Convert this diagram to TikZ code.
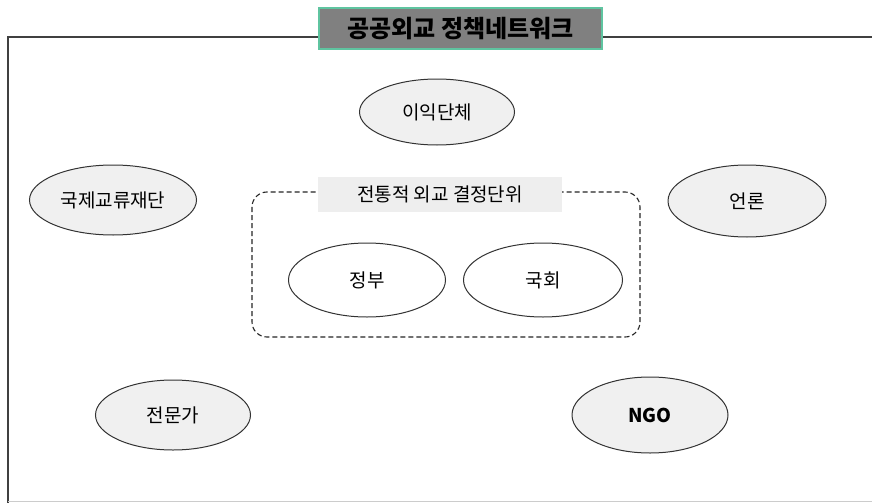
\documentclass[tikz,border=0pt]{standalone}
\usepackage{fontspec}
\newfontfamily\kr{Noto Sans CJK KR}
\usetikzlibrary{shapes.geometric}
\definecolor{ellfill}{HTML}{F0F0F0}
\definecolor{titlefill}{HTML}{808080}
\definecolor{titleborder}{HTML}{5FC4A0}
\definecolor{labfill}{HTML}{EEEEEE}
\tikzset{
  oval/.style={ellipse, draw=black!80, line width=1pt, fill=ellfill, minimum width=#1, minimum height=70pt, inner sep=0pt, font=\kr\fontsize{19}{22}\selectfont},
  whiteoval/.style={oval=#1, fill=white},
}
\begin{document}
\begin{tikzpicture}[x=1pt,y=-1pt]
\useasboundingbox (0,0) rectangle (872,503);
\fill[white] (0,0) rectangle (872,503);
% outer frame
\draw[black!75, line width=1.3pt] (872,37) -- (8,37) -- (8,503);
\draw[black!20, line width=1pt] (8,501.5) -- (872,501.5);
% title
\node[draw=titleborder, fill=titlefill, line width=1.2pt, minimum width=283pt, minimum height=41pt, inner sep=0pt, font=\kr\bfseries\fontsize{24}{28}\selectfont] (title) at (460.5,28.5) {공공외교 정책네트워크};
% dashed group
\draw[dash pattern=on 5pt off 3pt, black!85, line width=1.1pt, rounded corners=15pt] (252,192) rectangle (640,337);
\node[fill=labfill, minimum width=244pt, minimum height=35pt, inner sep=0pt, font=\kr\fontsize{19}{22}\selectfont] (grp) at (440,194.5) {전통적 외교 결정단위};
% ellipses
\node[oval=155pt, minimum height=66pt] (ik) at (437,112) {이익단체};
\node[oval=167pt] (kj) at (113,200) {국제교류재단};
\node[oval=158pt, minimum height=72pt] (eon) at (747,201) {언론};
\node[whiteoval=157pt, minimum height=74pt] (jb) at (367,280) {정부};
\node[whiteoval=159pt, minimum height=74pt] (kh) at (543,280) {국회};
\node[oval=155pt] (jmg) at (173,415) {전문가};
\node[oval=156pt, minimum height=76pt, font=\kr\bfseries\fontsize{19}{22}\selectfont] (ngo) at (650,415) {NGO};
\end{tikzpicture}
\end{document}
